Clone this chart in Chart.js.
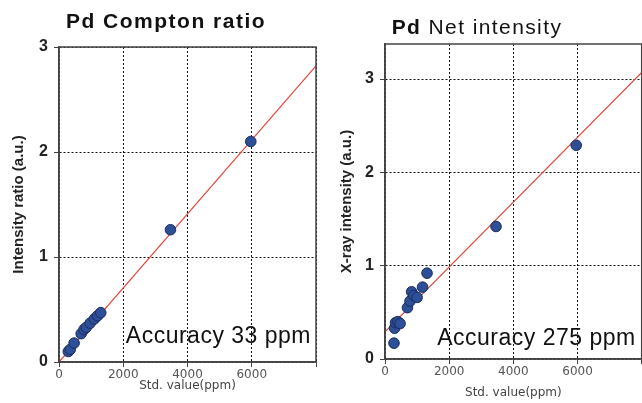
<!DOCTYPE html>
<html>
<head>
<meta charset="utf-8">
<script src="https://cdn.jsdelivr.net/npm/chart.js@4.4.0/dist/chart.umd.min.js"></script>
<style>
  html, body { margin: 0; background: #fff; overflow: hidden; width: 642px; height: 403px; }
  .panel { position: absolute; top: 0; }
</style>
</head>
<body>
<div class="panel" style="left:0"><canvas id="chart1" width="330" height="403"></canvas></div>
<div class="panel" style="left:320px"><canvas id="chart2" width="328" height="403"></canvas></div>
<script>
// Pd Compton ratio (std value ppm, ratio)
var comptonX = [290, 350, 470, 690, 780, 850, 970, 1100, 1200, 1300, 3470, 5970];
var comptonY = [0.10, 0.12, 0.18, 0.27, 0.31, 0.33, 0.37, 0.41, 0.44, 0.47, 1.26, 2.10];
var comptonFitX = [0, 8000];
var comptonFitY = [0, 2.82];

// Pd Net intensity (std value ppm, x-ray intensity)
var netX = [280, 300, 330, 400, 470, 700, 780, 830, 900, 1000, 1170, 1310, 3460, 5960];
var netY = [0.17, 0.33, 0.39, 0.40, 0.38, 0.55, 0.62, 0.72, 0.68, 0.66, 0.77, 0.92, 1.42, 2.29];
var netFitX = [0, 8000];
var netFitY = [0.29, 3.07];

var xTicks = [0, 2000, 4000, 6000];

function pts(xs, ys) {
  var out = [];
  for (var i = 0; i < xs.length; ++i) out.push({x: xs[i], y: ys[i]});
  return out;
}

var boxAndText = {
  id: 'boxAndText',
  afterDraw: function(chart, args, opts) {
    var ctx = chart.ctx, a = chart.chartArea;
    ctx.save();
    ctx.strokeStyle = '#444';
    ctx.lineWidth = 1.5;
    ctx.setLineDash([]);
    ctx.strokeRect(a.left, a.top, a.right - a.left, a.bottom - a.top);

    ctx.fillStyle = '#111';
    ctx.font = '23px "Liberation Sans", Arial';
    ctx.letterSpacing = '0.5px';
    ctx.textAlign = 'right';
    ctx.textBaseline = 'alphabetic';
    ctx.fillText(opts.note, a.right - opts.noteDx, a.bottom - opts.noteDy);

    // title with mixed weights
    ctx.letterSpacing = opts.titleSpacing;
    var parts = opts.title, w = 0;
    for (var i = 0; i < parts.length; ++i) {
      ctx.font = parts[i][1] + ' 21px "Liberation Sans", Arial';
      w += ctx.measureText(parts[i][0]).width;
    }
    var x = opts.titleX - w / 2;
    ctx.textAlign = 'left';
    for (var i = 0; i < parts.length; ++i) {
      ctx.font = parts[i][1] + ' 21px "Liberation Sans", Arial';
      ctx.fillText(parts[i][0], x, opts.titleY);
      x += ctx.measureText(parts[i][0]).width;
    }
    ctx.restore();
  }
};

function makeChart(id, xs, ys, fx, fy, yMax, yTitle, pad, axisW, axisH, xTitlePad, yTitlePad, plug) {
  return new Chart(id, {
    type: 'scatter',
    data: {
      datasets: [
        {
          data: pts(xs, ys),
          backgroundColor: '#2d4f97',
          borderColor: '#1a2c5c',
          borderWidth: 1,
          pointRadius: 5.3
        },
        {
          data: pts(fx, fy),
          showLine: true,
          borderColor: '#e0473a',
          borderWidth: 1.2,
          pointRadius: 0
        }
      ]
    },
    options: {
      responsive: false,
      animation: false,
      layout: { padding: pad },
      plugins: {
        legend: { display: false },
        tooltip: { enabled: false },
        boxAndText: plug
      },
      scales: {
        x: {
          type: 'linear',
          min: 0,
          max: 8000,
          afterBuildTicks: function(s) {
            s.ticks = xTicks.concat([8000]).map(function(v) { return {value: v}; });
          },
          afterFit: function(s) { s.height = axisH; },
          ticks: {
            callback: function(v) { return v === 8000 ? '' : String(v); },
            maxRotation: 0,
            padding: 1,
            color: '#555',
            font: { family: '"DejaVu Sans"', size: 12 }
          },
          grid: {
            color: '#111',
            lineWidth: 1,
            tickLength: 5,
            tickColor: '#444'
          },
          border: { color: '#444', width: 1.5, dash: [2, 2] },
          title: {
            display: true,
            text: 'Std. value(ppm)',
            color: '#444',
            padding: { top: 0, bottom: xTitlePad },
            font: { family: '"DejaVu Sans"', size: 12 }
          }
        },
        y: {
          min: 0,
          max: yMax,
          afterBuildTicks: function(s) {
            var t = [];
            for (var v = 0; v <= yMax; v += 1) t.push({value: v});
            s.ticks = t;
          },
          afterFit: function(s) { s.width = axisW; },
          ticks: {
            padding: 6,
            color: '#222',
            font: { family: '"Liberation Sans"', size: 16, weight: 'bold' }
          },
          grid: {
            color: '#111',
            lineWidth: 1,
            tickLength: 5,
            tickColor: '#444'
          },
          border: { color: '#444', width: 1.5, dash: [2, 2] },
          title: {
            display: true,
            text: yTitle,
            color: '#222',
            padding: { top: yTitlePad, bottom: 0 },
            font: { family: '"Liberation Sans"', size: 15, weight: 'bold' }
          }
        }
      }
    },
    plugins: [boxAndText]
  });
}

// dotted grid
Chart.defaults.scale.grid.borderDash = [2, 2];

makeChart('chart1', comptonX, comptonY, comptonFitX, comptonFitY, 3,
  'Intensity ratio (a.u.)', {top: 47, right: 14, bottom: 0, left: 0}, 59, 41, 10, 10,
  { note: 'Accuracy 33 ppm', noteDx: 5, noteDy: 19,
    title: [['Pd Compton ratio', 'bold']], titleX: 166, titleY: 28, titleSpacing: '1.5px' });

makeChart('chart2', netX, netY, netFitX, netFitY, 3.375,
  'X-ray intensity (a.u.)', {top: 44, right: 0, bottom: 0, left: 0}, 65, 44, 3, 18,
  { note: 'Accuracy 275 ppm', noteDx: 6, noteDy: 14,
    title: [['Pd', 'bold'], [' Net intensity', 'normal']], titleX: 157, titleY: 34, titleSpacing: '1.4px' });
</script>
</body>
</html>
